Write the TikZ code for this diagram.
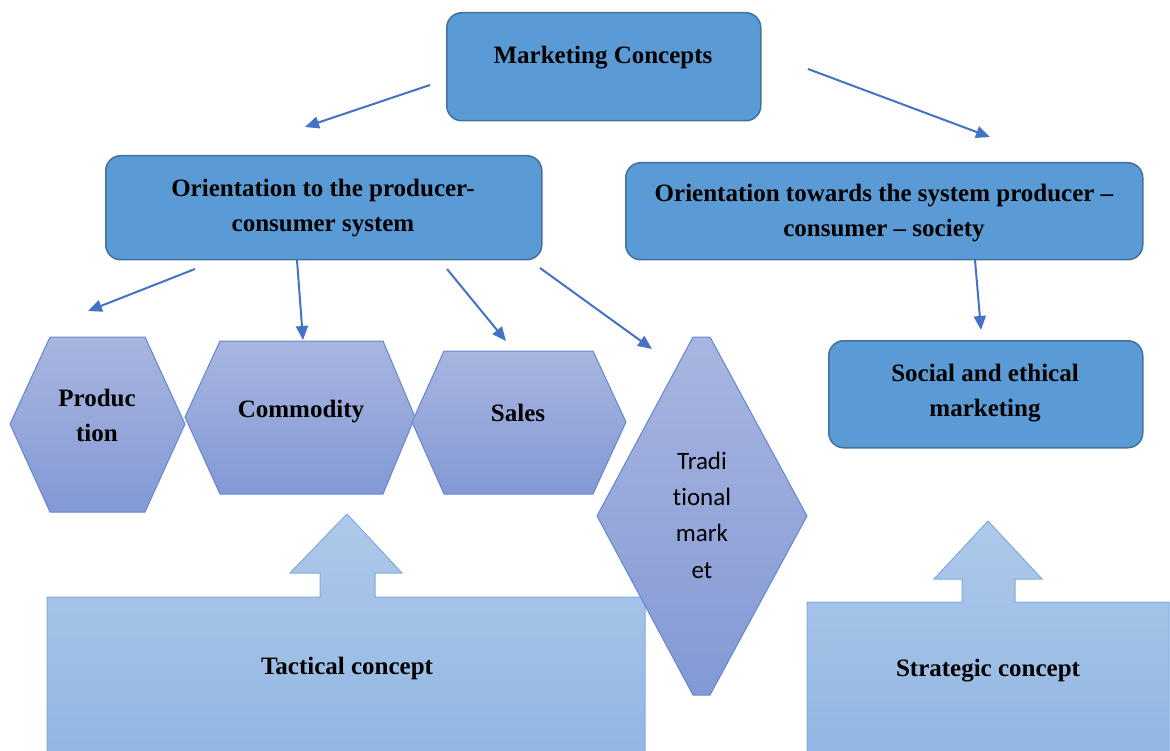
\documentclass[tikz,border=0pt]{standalone}
\usepackage{fontspec}
\setmainfont{Liberation Serif}
\newfontfamily\sansbody[Ligatures={NoCommon,NoContextual}]{Carlito}
\usetikzlibrary{arrows.meta}

\definecolor{boxfill}{HTML}{5B9BD5}
\definecolor{boxline}{HTML}{41719C}
\definecolor{arrowblue}{HTML}{4472C4}
\definecolor{hextop}{RGB}{168,181,223}
\definecolor{hexbot}{RGB}{131,153,213}
\definecolor{hexline}{RGB}{100,135,210}
\definecolor{basetop}{RGB}{174,201,233}
\definecolor{basebot}{RGB}{145,182,226}
\definecolor{basedge}{RGB}{125,172,225}

\begin{document}
\begin{tikzpicture}[x=1pt,y=-1pt,
  conceptbox/.style={draw=boxline, fill=boxfill, line width=1.5pt, rounded corners=15pt,
    inner sep=0pt, anchor=north west},
  boxtext/.style={font=\fontsize{25}{35}\selectfont\bfseries, align=center, anchor=base, inner sep=0pt},
  hexshape/.style={draw=hexline, line width=1pt, top color=hextop, bottom color=hexbot},
  baseshape/.style={draw=basedge, line width=1pt, top color=basetop, bottom color=basebot},
  conn/.style={draw=arrowblue, line width=2pt, -{Triangle[length=14pt,width=12pt]}}]

\useasboundingbox (0,0) rectangle (1170,751);

% top-level boxes (multi-line labels are placed by the baseline of their last line)
\node[conceptbox, minimum width=314pt, minimum height=108pt] (mc) at (446,12) {};
\node[boxtext] (mct) at (603,64) {Marketing Concepts};

\node[conceptbox, minimum width=436pt, minimum height=104pt] (pc) at (105,155) {};
\node[boxtext] (pct) at (323,232) {Orientation to the producer-\\consumer system};

\node[conceptbox, minimum width=517pt, minimum height=97pt] (pcs) at (625,162) {};
\node[boxtext] (pcst) at (884,237) {Orientation towards the system producer --\\consumer -- society};

\node[conceptbox, minimum width=314pt, minimum height=107pt] (se) at (828,340) {};
\node[boxtext] (set) at (985,416) {Social and ethical\\marketing};

% base panels with block arrows
\path[baseshape] (47,760) -- (47,597) -- (320,597) -- (320,573) -- (290,573) -- (347,514)
  -- (402,573) -- (375,573) -- (375,597) -- (645,597) -- (645,760) -- cycle;
\node[boxtext] (tac) at (347,674) {Tactical concept};

\path[baseshape] (807,760) -- (807,602) -- (962,602) -- (962,579) -- (934,579) -- (988,521)
  -- (1042,579) -- (1015,579) -- (1015,602) -- (1169,602) -- (1169,760) -- cycle;
\node[boxtext] (str) at (988,676) {Strategic concept};

% hexagons
\path[hexshape] (10,424) -- (50,337) -- (145,337) -- (185,424) -- (145,512) -- (50,512) -- cycle;
\node[boxtext] (prod) at (97,441) {Produc\\tion};

\path[hexshape] (185,417) -- (220,341) -- (383,341) -- (415,417) -- (383,494) -- (220,494) -- cycle;
\node[boxtext] (comm) at (301,417) {Commodity};

\path[hexshape] (412,422) -- (444,351) -- (593,351) -- (626,422) -- (593,494) -- (444,494) -- cycle;
\node[boxtext] (sales) at (518,421) {Sales};

\path[hexshape] (597,516) -- (693,337) -- (710,337) -- (807,516) -- (710,695) -- (693,695) -- cycle;
\node[boxtext, font=\fontsize{25}{36.3}\selectfont\sansbody] (trad) at (702,578) {Tradi\\tional\\mark\\et};

% connector end points
\coordinate (m1) at (430,85);   \coordinate (m1e) at (305,127);
\coordinate (m2) at (808,69);   \coordinate (m2e) at (990,137);
\coordinate (p1) at (195,269);  \coordinate (p1e) at (88,311);
\coordinate (p2) at (297,260);  \coordinate (p2e) at (303,340);
\coordinate (p3) at (447,269);  \coordinate (p3e) at (506,341);
\coordinate (p4) at (540,268);  \coordinate (p4e) at (652,349);
\coordinate (s1) at (975,260);  \coordinate (s1e) at (981,330);

\draw[conn] (m1) -- (m1e);
\draw[conn] (m2) -- (m2e);
\draw[conn] (p1) -- (p1e);
\draw[conn] (p2) -- (p2e);
\draw[conn] (p3) -- (p3e);
\draw[conn] (p4) -- (p4e);
\draw[conn] (s1) -- (s1e);
\end{tikzpicture}
\end{document}
